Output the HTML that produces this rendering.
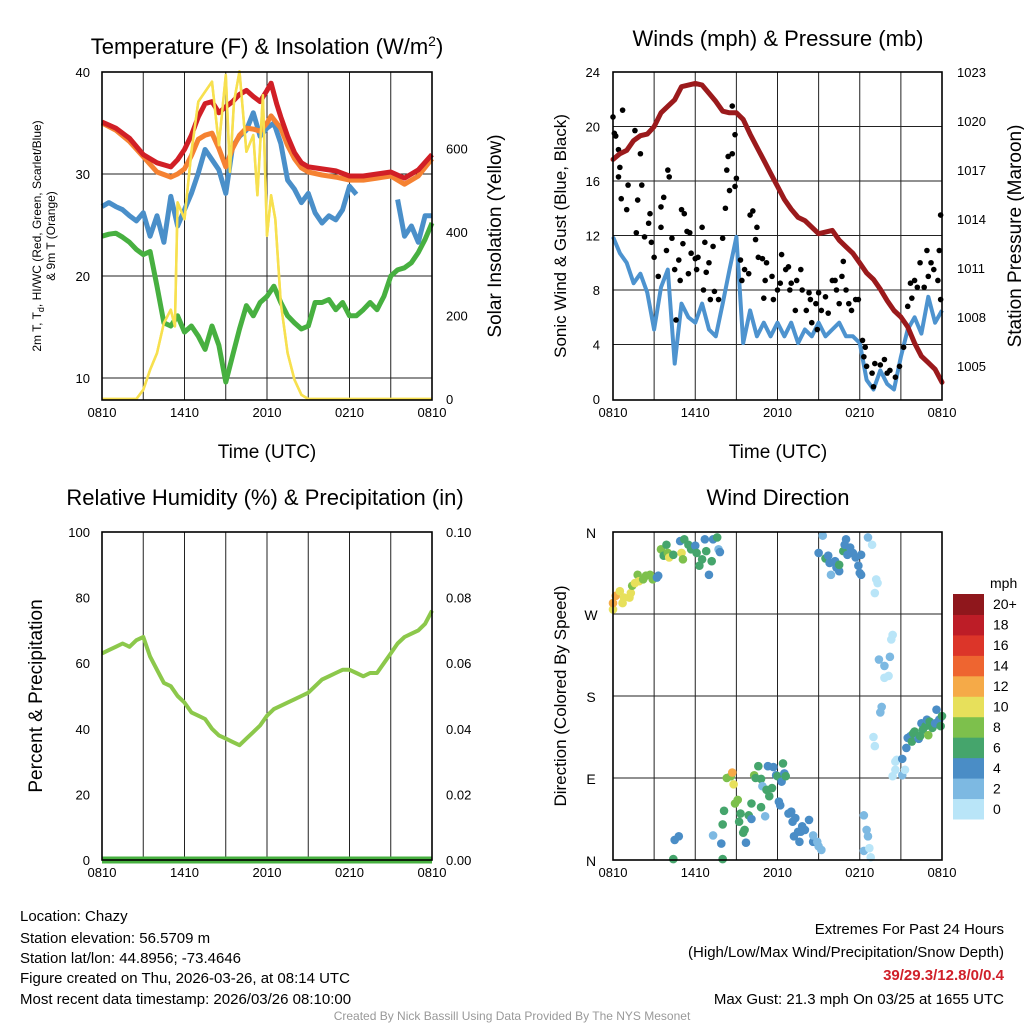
<!DOCTYPE html>
<html><head><meta charset="utf-8"><title>Chazy Meteogram</title>
<style>
html,body{margin:0;padding:0;background:#fff;}
svg{display:block;font-family:"Liberation Sans",Arial,sans-serif;}
</style></head>
<body>
<svg id="chart" width="1024" height="1024" viewBox="0 0 1024 1024" xmlns="http://www.w3.org/2000/svg">
<rect x="0" y="0" width="1024" height="1024" fill="#fff"/>
<g id="layer"></g>
<!-- Titles -->
<text x="267" y="54" font-size="22" text-anchor="middle">Temperature (F) &amp; Insolation (W/m<tspan dy="-8" font-size="14">2</tspan><tspan dy="8">)</tspan></text>
<text x="778" y="46" font-size="22" text-anchor="middle">Winds (mph) &amp; Pressure (mb)</text>
<text x="265" y="505" font-size="22" text-anchor="middle">Relative Humidity (%) &amp; Precipitation (in)</text>
<text x="778" y="505" font-size="22" text-anchor="middle">Wind Direction</text>
<!-- axis titles -->
<text x="267" y="458" font-size="19" text-anchor="middle">Time (UTC)</text>
<text x="778" y="458" font-size="19" text-anchor="middle">Time (UTC)</text>
<text transform="translate(41,236) rotate(-90)" font-size="12" text-anchor="middle">2m T, T<tspan dy="3" font-size="9">d</tspan><tspan dy="-3">, HI/WC (Red, Green, Scarlet/Blue)</tspan></text>
<text transform="translate(55,236) rotate(-90)" font-size="12" text-anchor="middle">&amp; 9m T (Orange)</text>
<text transform="translate(501,236) rotate(-90)" font-size="19" text-anchor="middle">Solar Insolation (Yellow)</text>
<text transform="translate(566,236) rotate(-90)" font-size="17" text-anchor="middle">Sonic Wind &amp; Gust (Blue, Black)</text>
<text transform="translate(1021,236) rotate(-90)" font-size="19" text-anchor="middle">Station Pressure (Maroon)</text>
<text transform="translate(42,696) rotate(-90)" font-size="19" text-anchor="middle">Percent &amp; Precipitation</text>
<text transform="translate(566,696) rotate(-90)" font-size="17" text-anchor="middle">Direction (Colored By Speed)</text>
<!-- footer -->
<g font-size="15">
<text x="20" y="921">Location: Chazy</text>
<text x="20" y="943">Station elevation: 56.5709 m</text>
<text x="20" y="963">Station lat/lon: 44.8956; -73.4646</text>
<text x="20" y="983">Figure created on Thu, 2026-03-26, at 08:14 UTC</text>
<text x="20" y="1004">Most recent data timestamp: 2026/03/26 08:10:00</text>
</g>
<g font-size="15" text-anchor="end">
<text x="1004" y="934">Extremes For Past 24 Hours</text>
<text x="1004" y="957">(High/Low/Max Wind/Precipitation/Snow Depth)</text>
<text x="1004" y="980" fill="#d0202a" font-weight="bold">39/29.3/12.8/0/0.4</text>
<text x="1004" y="1004">Max Gust: 21.3 mph On 03/25 at 1655 UTC</text>
</g>
<text x="512" y="1020" font-size="12" fill="#999" text-anchor="middle">Created By Nick Bassill Using Data Provided By The NYS Mesonet</text>
</svg>
<script>
// ---------- DATA ----------
const timeLabels = ["0810","1410","2010","0210","0810"];
const tempTicks = [10,20,30,40];
const solarTicks = [0,200,400,600];
const windTicks = [0,4,8,12,16,20,24];
const pressTicks = [1005,1008,1011,1014,1017,1020,1023];
const rhTicks = [0,20,40,60,80,100];
const precipTicks = ["0.00","0.02","0.04","0.06","0.08","0.10"];
const dirLabels = ["N","E","S","W","N"];
const speedLegendLabels = ["0","2","4","6","8","10","12","14","16","18","20+"];

const tempTimes = [0,1,2,3,4,5,5.5,6,6.5,7,7.5,8,8.5,9,9.5,10,10.5,11,11.5,12,12.3,12.7,13,13.5,14,14.5,15,16,17,18,19,20,21,22,23,24];
const heatIndexValues = [35.1,34.5,33.5,31.9,31.1,30.7,31.4,32.4,33.8,35.6,36.9,37.1,36,36.6,37.1,37.8,38.2,37.6,37.1,38.2,38.9,36.9,35.6,33.7,32.1,31.1,30.7,30.5,30.3,29.8,29.8,30,30.2,29.6,30.4,31.9];
const temp9mValues = [35,34.3,33.2,31.7,30.2,29.7,30.0,30.5,31.8,33.4,33.8,34,32.5,30.7,32.5,33.8,34.5,34.4,34.2,35,35.7,35,34.5,32.8,31.5,30.6,30.2,29.9,29.7,29.4,29.4,29.6,29.8,29.0,29.8,31.5];

const halfHourTimes = [0,0.5,1,1.5,2,2.5,3,3.5,4,4.5,5,5.5,6,6.5,7,7.5,8,8.5,9,9.5,10,10.5,11,11.5,12,12.5,13,13.5,14,14.5,15,15.5,16,16.5,17,17.5,18,18.5,19,19.5,20,20.5,21,21.5,22,22.5,23,23.5,24];
const tempBlueValues = [26.8,27.2,26.8,26.5,25.9,25.4,26.2,23.9,25.9,23.3,27.8,24.9,26.5,28.1,30.1,32.4,31.4,30.4,28.1,32.7,33.7,34.3,36,33.7,34.5,35,33,29.4,28.5,27.2,28.1,26.2,25.2,25.9,25.5,26.5,28.8,28,null,null,null,null,null,27.5,23.9,24.9,23.3,25.9,25.9];
const dewpointValues = [23.9,24.1,24.2,23.8,23.3,22.6,22.1,22.4,19,15.4,15.1,16.1,14.5,15.1,14.1,12.8,15.1,13.2,9.6,12.2,14.8,17.1,16.1,17.4,18,19,17.4,16.1,15.4,14.8,15.1,17.4,17.4,17.7,16.7,17.4,16.1,16.1,16.7,17.4,16.7,18,20,20.6,20.8,21.3,22.3,23.6,25.2];

const solarTimes = [0,2.5,3,3.5,4,4.5,5,5.3,5.5,6,6.5,7,7.5,8,8.5,9,9.3,9.6,10,10.5,11,11.3,11.7,12,12.3,12.6,13,13.5,14,14.5,15,24];
const solarValues = [0,0,22,70,110,182,214,174,471,431,592,712,736,760,608,776,544,712,785,592,632,488,728,391,488,431,230,110,46,10,0,0];

const pressureValues = [1017.65,1018.0,1018.2,1018.8,1019.1,1019.2,1019.65,1020.5,1020.9,1021.3,1022.1,1022.2,1022.3,1022.2,1021.7,1021.2,1020.6,1020.5,1020.5,1020.1,1019.2,1018.4,1017.6,1016.8,1016,1015.2,1014.6,1014.1,1013.9,1013.5,1013.1,1013.2,1013.3,1012.7,1012.3,1011.9,1011.3,1010.7,1010.3,1009.7,1009.0,1008.4,1008.0,1007.4,1006.4,1005.6,1005.2,1004.8,1004.0];
const windValues = [11.9,10.7,10,8.5,9.2,7.8,5.1,8.2,9.5,2.6,7,6,5.6,7,5.1,4.6,7,9.5,11.9,4.1,6.5,4.6,5.6,4.6,5.6,4.6,5.6,4.1,5.1,4.6,5.6,4.6,5.1,5.6,4.6,4.6,4.1,1.4,0.7,2.1,1.1,0.7,3.1,5.1,6,4.8,7.5,5.6,6.5];

const gustTimes = [0,0.1,0.2,0.4,0.7,0.5,0.4,0.6,1.1,1.0,1.6,2.0,2.1,1.8,1.7,2.3,2.6,2.7,2.8,3.0,3.3,3.5,3.7,3.5,4.0,4.1,3.9,4.3,4.5,4.6,4.8,4.9,5.0,5.2,5.1,5.4,5.5,5.6,5.7,6.0,6.1,6.2,6.5,6.6,6.7,6.8,7.0,7.1,7.3,7.4,7.7,8.0,8.2,8.3,8.4,8.5,8.7,8.7,8.9,9.0,8.9,9.3,9.4,9.6,9.9,10.0,10.2,10.4,10.5,10.6,10.9,11.1,11.0,11.2,11.6,11.7,12.0,12.2,12.3,12.6,12.8,12.9,13.0,13.3,13.4,13.7,13.8,14.1,14.3,14.4,14.5,14.8,14.9,15.0,15.2,15.5,15.7,16.0,16.2,16.3,16.5,16.7,16.8,17.0,17.2,17.4,17.7,17.9,18.2,18.3,18.4,18.5,18.9,19.0,19.1,19.5,19.8,20.0,20.2,20.6,20.9,21.2,21.5,21.7,21.8,22.0,22.2,22.4,22.7,22.9,23.0,23.2,23.4,23.7,23.8,23.9,23.9];
const gustValues = [20.7,19.5,19.3,18.3,21.2,17.0,16.3,14.7,15.7,13.9,19.7,18.0,15.7,14.6,12.2,11.9,12.9,13.6,11.5,10.4,9.0,14.1,14.8,12.6,16.8,16.3,10.9,11.8,9.5,5.8,10.2,8.7,13.9,13.6,11.4,12.3,9.2,12.2,10.7,10.3,9.5,10.4,12.6,8.0,11.5,9.3,10.0,7.3,11.2,7.9,7.3,11.8,14.0,16.8,17.8,15.3,18.0,21.5,19.4,16.2,15.6,10.2,8.7,9.5,9.2,13.5,13.8,11.7,12.6,10.4,10.3,8.7,7.4,10.0,9.0,7.3,8.0,8.5,10.6,9.5,9.7,8.0,8.5,6.5,8.7,9.5,8.0,6.5,7.8,7.3,5.6,7.0,5.1,7.8,6.5,7.5,6.3,8.7,8.7,8.0,7.0,9.0,10.1,8.0,7.0,6.5,7.3,7.3,4.3,3.1,3.8,2.4,1.9,0.9,2.6,2.5,2.9,1.9,2.1,1.6,2.4,3.8,6.8,8.5,7.4,8.7,8.2,10.0,8.2,10.9,9.0,10.0,9.5,8.7,10.9,7.3,13.5];

const rhValues = [63,64,65,66,65,67,68,62,58,54,53,50,48,45,44,43,40,38,37,36,35,37,39,41,44,46,47,48,49,50,51,53,55,56,57,58,58,57,56,57,57,60,63,66,68,69,70,72,76];
const precipValues = [0,0,0,0,0,0,0,0,0,0,0,0,0,0,0,0,0,0,0,0,0,0,0,0,0,0,0,0,0,0,0,0,0,0,0,0,0,0,0,0,0,0,0,0,0,0,0,0,0];

const dirTimes = [0,0,0.2,0.5,0.7,0.8,1.2,1.3,1.4,1.6,1.8,1.9,2.2,2.4,2.7,2.9,3.2,3.3,3.5,3.7,3.9,4.0,4.1,4.4,4.9,5.0,5.1,5.2,5.5,5.7,6.0,6.1,6.3,6.5,6.7,6.8,7.0,7.2,7.3,7.6,7.7,7.8,
4.5,4.8,4.4,7.3,7.9,8.0,8.1,8.0,8.3,8.6,8.7,8.8,8.9,9.1,9.2,9.3,9.5,9.6,9.7,9.9,10.1,10.1,10.3,10.4,10.6,10.8,10.8,10.9,11.1,11.2,11.3,11.4,11.6,11.7,11.9,12.0,12.1,12.2,12.3,12.4,12.5,12.6,12.8,13.0,13.1,13.2,13.3,13.5,13.6,13.7,13.8,14.0,14.3,14.6,14.6,14.9,15.0,15.2,
15.0,15.3,15.5,15.7,15.8,15.9,16.2,16.3,16.5,16.5,16.8,16.9,17.0,17.1,17.3,17.5,17.7,17.9,18.0,18.1,18.1,18.6,18.9,19.2,19.3,19.1,
18.3,18.5,18.6,18.3,18.7,18.8,
20.4,20.3,19.4,20.2,19.8,19.8,20.1,19.6,19.5,19.0,19.1,20.6,20.7,20.4,20.6,21.1,21.1,21.3,21.4,21.5,21.7,21.8,21.9,22.0,22.3,22.4,22.5,22.6,22.8,22.9,23.0,23.1,23.3,23.4,23.5,23.6,23.8,23.9,24.0];
const dirDegrees = [275,282,290,295,282,288,288,293,301,304,313,306,308,312,313,308,310,312,341,334,346,337,332,335,350,337,330,352,346,341,345,337,323,330,352,339,313,328,352,354,341,338,
22,26,1,27,18,1,54,39,90,92,96,83,62,66,42,51,30,33,19,49,62,45,93,90,103,89,58,81,48,77,103,70,79,102,93,92,64,60,86,106,95,92,51,53,42,26,46,31,20,31,37,33,44,20,27,20,15,11,
337,356,331,334,326,313,328,321,317,324,339,346,352,335,343,337,332,323,315,335,313,354,346,308,304,293,
49,33,26,10,13,3,
247,242,220,223,213,200,202,168,162,135,125,108,110,92,99,93,111,99,123,134,136,130,139,141,133,136,150,143,147,154,137,152,145,148,150,165,154,147,158];
const dirSpeeds = [11,13,13,11,11,11,11,11,9,11,9,11,9,9,9,9,5,5,9,7,7,9,11,7,5,11,9,7,7,7,5,7,7,7,5,7,5,7,5,7,3,5,
5,5,7,3,5,7,7,7,9,9,13,11,9,9,7,7,7,7,5,7,7,5,9,7,7,7,7,3,3,7,5,7,7,5,5,7,5,5,5,7,5,7,5,5,5,5,5,5,5,5,5,5,5,5,3,3,3,3,
5,3,7,5,5,3,5,5,5,7,7,5,5,5,5,5,5,5,5,5,5,3,1,1,1,1,
3,3,3,3,1,1,
1,1,3,3,3,1,1,3,3,1,1,1,1,1,1,3,5,1,5,5,5,7,7,7,5,7,5,7,7,5,9,7,7,7,5,5,5,7,7];

const speedColors = ['#b9e5f8','#7db9e2','#4a8dc6','#45a56c','#7dc04c','#e7e05b','#f5aa48','#ee6530','#dc3529','#bd1d27','#8f171c'];

// ---------- AXES ----------
const L = 102, R = 432, L2 = 613, R2 = 942;
const xT1 = t => L + t * (R - L) / 24;
const xT2 = t => L2 + t * (R2 - L2) / 24;
const yTemp = v => 72 + (40 - v) * 10.2;
const ySolar = v => 399 - v * 83.5 / 200;
const yWind = v => 399 - v * 327 / 24;
const yPress = p => 366 - (p - 1005) * 49 / 3;
const yRH = v => 860 - v * 3.28;
const yPrecip = v => 860 - v * 3280;
const yDir = d => 860 - d * 328 / 360;

const NS = 'http://www.w3.org/2000/svg';
const layer = document.getElementById('layer');
function mk(tag, attrs, parent) {
  const el = document.createElementNS(NS, tag);
  for (const k in attrs) el.setAttribute(k, attrs[k]);
  (parent || layer).appendChild(el);
  return el;
}
function pathD(times, vals, xf, yf) {
  let d = '', pen = false;
  for (let i = 0; i < Math.min(times.length, vals.length); i++) {
    if (vals[i] === null) { pen = false; continue; }
    d += (pen ? 'L' : 'M') + xf(times[i]).toFixed(1) + ' ' + yf(vals[i]).toFixed(1);
    pen = true;
  }
  return d;
}

// grids & frames
function gridV(x0, x1, y0, y1, name) {
  for (let i = 1; i < 8; i++) {
    const x = x0 + i * (x1 - x0) / 8;
    const el = mk('line', {x1: x, x2: x, y1: y0, y2: y1, stroke: '#222', 'stroke-width': 1});
    
    
  }
}
function gridH(ys, x0, x1, name) {
  ys.forEach(y => {
    const el = mk('line', {x1: x0, x2: x1, y1: y, y2: y, stroke: '#222', 'stroke-width': 1});
    
    
  });
}
function frame(x0, y0, x1, y1, name) {
  const el = mk('rect', {x: x0, y: y0, width: x1 - x0, height: y1 - y0, fill: 'none', stroke: '#000', 'stroke-width': 1.6});
  
  
}
function tickText(x, y, txt, anchor, name, size) {
  const el = mk('text', {x: x, y: y, 'font-size': size || 13, 'text-anchor': anchor});
  el.textContent = txt;
  
  
}
function xLabels(xf, y) {
  timeLabels.forEach((lab, i) => tickText(xf(i * 6), y, lab, 'middle', 'x-tick-label'));
}

// Panel 1 grid
gridV(L, R, 72, 400, 'temp-grid-v');
gridH([10, 20, 30].map(yTemp), L, R, 'temp-grid-h');
// Panel 2 grid
gridV(L2, R2, 72, 400, 'wind-grid-v');
gridH([4, 8, 12, 16, 20].map(yWind), L2, R2, 'wind-grid-h');
// Panel 3 grid
gridV(L, R, 532, 860, 'rh-grid-v');
// Panel 4 grid
gridV(L2, R2, 532, 860, 'dir-grid-v');
gridH([90, 180, 270].map(yDir), L2, R2, 'dir-grid-h');

// ---------- Panel 1 series ----------
let el;
el = mk('path', {d: pathD(solarTimes, solarValues, xT1, ySolar), fill: 'none', stroke: '#f7e04f', 'stroke-width': 2.5, 'stroke-linejoin': 'round'});


el = mk('path', {d: pathD(halfHourTimes, dewpointValues, xT1, yTemp), fill: 'none', stroke: '#47b040', 'stroke-width': 5, 'stroke-linejoin': 'round'});


el = mk('path', {d: pathD(halfHourTimes, tempBlueValues, xT1, yTemp), fill: 'none', stroke: '#4a8fc9', 'stroke-width': 5, 'stroke-linejoin': 'round'});


el = mk('path', {d: pathD(tempTimes, temp9mValues, xT1, yTemp), fill: 'none', stroke: '#f58232', 'stroke-width': 5, 'stroke-linejoin': 'round'});


el = mk('path', {d: pathD(tempTimes, heatIndexValues, xT1, yTemp), fill: 'none', stroke: '#d11f26', 'stroke-width': 5, 'stroke-linejoin': 'round'});


// redraw the solar line on top, as in the reference
el = mk('path', {d: pathD(solarTimes, solarValues, xT1, ySolar), fill: 'none', stroke: '#f7e04f', 'stroke-width': 2.5, 'stroke-linejoin': 'round'});



frame(L, 72, R, 400, 'temp-plot-frame');
tempTicks.forEach(v => tickText(90, yTemp(v) + 5, String(v), 'end', 'temp-y-tick-label'));
solarTicks.forEach(v => tickText(446, ySolar(v) + 5, String(v), 'start', 'solar-y-tick-label'));
xLabels(xT1, 417);

// ---------- Panel 2 series ----------
el = mk('path', {d: pathD(halfHourTimes, windValues, xT2, yWind), fill: 'none', stroke: '#4d93cf', 'stroke-width': 4, 'stroke-linejoin': 'round'});


for (let i = 0; i < Math.min(gustTimes.length, gustValues.length); i++) {
  const c = mk('circle', {cx: xT2(gustTimes[i]), cy: yWind(gustValues[i]), r: 2.8, fill: '#000'});
  
  
}
el = mk('path', {d: pathD(halfHourTimes, pressureValues, xT2, yPress), fill: 'none', stroke: '#9b1a1c', 'stroke-width': 5, 'stroke-linejoin': 'round', 'stroke-linecap': 'round'});


frame(L2, 72, R2, 400, 'wind-plot-frame');
windTicks.forEach(v => tickText(600, yWind(v) + 5, String(v), 'end', 'wind-y-tick-label'));
pressTicks.forEach(v => tickText(957, yPress(v) + 5, String(v), 'start', 'pressure-y-tick-label'));
xLabels(xT2, 417);

// ---------- Panel 3 series ----------
el = mk('path', {d: pathD(halfHourTimes, rhValues, xT1, yRH), fill: 'none', stroke: '#8cc84b', 'stroke-width': 4, 'stroke-linejoin': 'round'});


el = mk('path', {d: pathD(halfHourTimes, precipValues, xT1, yPrecip), fill: 'none', stroke: '#47b040', 'stroke-width': 7});


frame(L, 532, R, 860, 'rh-plot-frame');
rhTicks.forEach(v => tickText(90, yRH(v) + 5, String(v), 'end', 'rh-y-tick-label'));
precipTicks.forEach(v => tickText(446, yPrecip(parseFloat(v)) + 5, v, 'start', 'precip-y-tick-label'));
xLabels(xT1, 877);

// ---------- Panel 4 series ----------
for (let i = 0; i < Math.min(dirTimes.length, dirDegrees.length, dirSpeeds.length); i++) {
  const idx = Math.min(10, Math.floor(dirSpeeds[i] / 2));
  const c = mk('circle', {cx: xT2(dirTimes[i]), cy: yDir(dirDegrees[i]), r: 4.3, fill: speedColors[idx]});
  
  
}
frame(L2, 532, R2, 860, 'dir-plot-frame');
dirLabels.forEach((lab, i) => tickText(591, yDir(i * 90) + 6, lab, 'middle', 'dir-y-tick-label', 14));
xLabels(xT2, 877);

// legend colorbar
const barTop = 594, barH = 225, bandH = barH / speedColors.length;
tickText(990, 588, 'mph', 'start', 'legend-unit', 14);
for (let i = 0; i < speedColors.length; i++) {
  const yTop = barTop + (speedColors.length - 1 - i) * bandH;
  const r = mk('rect', {x: 953, y: yTop, width: 31, height: bandH + 0.5, fill: speedColors[i]});
  
  
  tickText(993, yTop + bandH / 2 + 5, speedLegendLabels[i], 'start', 'legend-label', 14);
}
</script>
</body></html>
